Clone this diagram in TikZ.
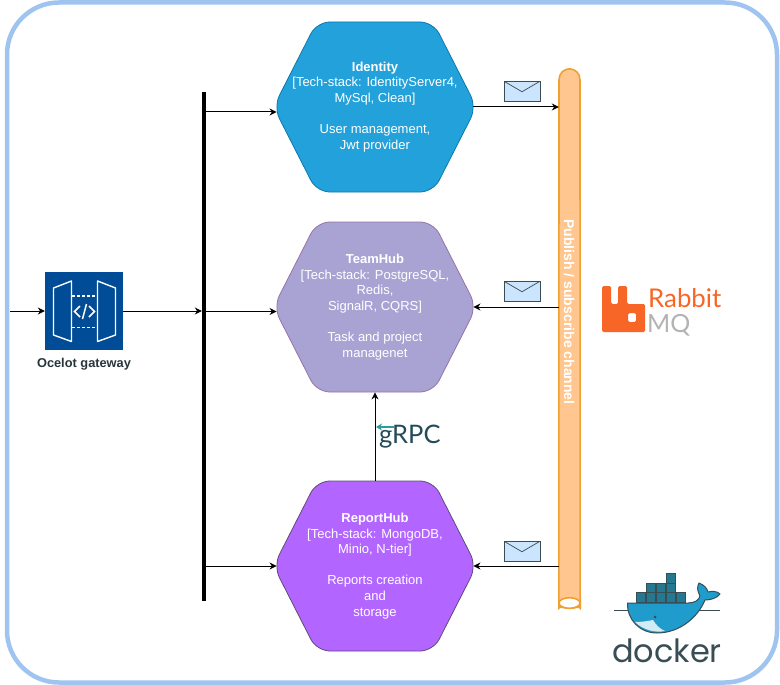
\documentclass[tikz,border=0pt]{standalone}
\usepackage{fontspec}
\setmainfont{Liberation Sans}
\newfontfamily\logofont{Lato}
\newfontfamily\dockerfont{Poppins}
\usetikzlibrary{arrows.meta,positioning,shapes.symbols}
\definecolor{framecol}{HTML}{A0C4F0}
\definecolor{gatecol}{HTML}{004C97}
\definecolor{identitycol}{HTML}{23A1DA}
\definecolor{identityline}{HTML}{0A78B0}
\definecolor{teamcol}{HTML}{A9A3D3}
\definecolor{teamline}{HTML}{9673A6}
\definecolor{reportcol}{HTML}{B266FF}
\definecolor{reportline}{HTML}{5F4A78}
\definecolor{channelcol}{HTML}{FFC78F}
\definecolor{channelline}{HTML}{F0A030}
\definecolor{mailcol}{HTML}{CCE5FF}
\definecolor{rabbitcol}{HTML}{F76627}
\definecolor{mqcol}{HTML}{B3B3B3}
\definecolor{grpccol}{HTML}{244B5A}
\definecolor{grpctip}{HTML}{2A9D9D}
\definecolor{dockerink}{HTML}{394D54}
\definecolor{dockerbox}{HTML}{24788F}
\definecolor{dockersea}{HTML}{1F9CCB}
\tikzset{
  flow/.style={-{Stealth[length=7pt,width=7pt]},line width=1pt},
  hexnode/.style={shape=signal,signal to=east and west,signal pointer angle=126,
    minimum width=203pt,minimum height=170pt,inner ysep=0pt,inner xsep=-50pt,rounded corners=13pt,
    draw=#1line,fill=#1col,text=white,align=center,line width=.8pt,
    font=\fontsize{13}{15.6}\selectfont},
  mailnode/.style={draw=dockerink,fill=mailcol,line width=.9pt,minimum width=36pt,minimum height=20.5pt,
    inner sep=0pt,path picture={\draw[dockerink,line width=.7pt]
      (path picture bounding box.north west) -- ++(18pt,-10.5pt)
      -- (path picture bounding box.north east);}},
}
\begin{document}
\begin{tikzpicture}[x=1pt,y=-1pt,node distance=200pt,on grid]
  \useasboundingbox (0,0) rectangle (780,685);
  \draw[framecol,line width=4.5pt,fill=white,rounded corners=52pt] (7,2.5) rectangle (777,682.5);

  % services
  \node[hexnode=identity] (identity) at (375,107)
    {\textbf{Identity}\\{}[Tech-stack: IdentityServer4,\\MySql, Clean]\\[15.6pt]User management,\\Jwt provider};
  \node[hexnode=team] (teamhub) [below=of identity]
    {\textbf{TeamHub}\\{}[Tech-stack: PostgreSQL,\\Redis,\\SignalR, CQRS]\\[15.6pt]Task and project\\managenet};
  \node[hexnode=report] (reporthub) [below=259pt of teamhub]
    {\textbf{ReportHub}\\{}[Tech-stack: MongoDB,\\Minio, N-tier]\\[15.6pt]Reports creation\\and\\storage};

  % gateway
  \coordinate (entry) at (10,311);
  \node[fill=gatecol,minimum size=78pt,inner sep=0pt] (gateway) at (84,311) {};
  \node[font=\fontsize{12.8}{14}\selectfont\bfseries,text=dockerink!70!black] (gatelabel) [below=53pt of gateway] {Ocelot gateway};
  \draw[white,line width=1.4pt,line join=round] (53.5,288) -- (71.5,281) -- (71.5,341.5) -- (53.5,335) -- cycle
    (97.5,281) -- (115.5,288) -- (115.5,335) -- (97.5,341.5) -- cycle;
  \draw[white,line width=1.4pt,densely dashed] (72,296) -- (97,296) (72,327.5) -- (97,327.5);
  \draw[white,line width=1.5pt] (80,306) -- (74.5,311.5) -- (80,317) (89,306) -- (94.5,311.5) -- (89,317) (82.5,319) -- (86.5,304);

  \node[fill=black,minimum width=4pt,minimum height=509pt,inner sep=0pt] (bus) at (204,346.5) {};

  % channel
  \node[minimum width=21pt,minimum height=539pt,inner sep=0pt] (channel) at (569.5,338.5) {};
  \draw[channelline,fill=channelcol,line width=1.6pt]
    (channel.south west) -- (559,80) .. controls (559,73) and (564,69) .. (channel.north)
    .. controls (575,69) and (580,73) .. (580,80) -- (channel.south east)
    .. controls (580,606) and (575,608) .. (channel.south)
    .. controls (564,608) and (559,606) .. cycle;
  \draw[channelline,fill=white,line width=1.6pt] (569.5,603) ellipse (10.5 and 5.3);
  \node[rotate=-90,text=white,font=\fontsize{14}{16}\selectfont\bfseries] (channellabel) at (569,312) {Publish / subscribe channel};

  \node[mailnode] (mail1) at (522,91.5) {};
  \node[mailnode] (mail2) at (522,291.5) {};
  \node[mailnode] (mail3) at (522,551.5) {};

  \path[flow]
  (entry) edge (gateway.west)
  (gateway.east) edge (gateway.east -| bus.west)
  % into the services
  ([yshift=-5pt]identity.west -| bus.east) edge ([yshift=-5pt,xshift=3.5pt]identity.west)
  ([yshift=-4.5pt]teamhub.west -| bus.east) edge ([yshift=-4.5pt,xshift=3.5pt]teamhub.west)
  (reporthub.west -| bus.east) edge ([xshift=3.5pt]reporthub.west)
  (reporthub.north) edge (teamhub.south)
  % channel edges
  ([xshift=-3.5pt]identity.east) edge (identity.east -| channel.west)
  (teamhub.east -| channel.west) edge ([xshift=-3.5pt]teamhub.east)
  (reporthub.east -| channel.west) edge ([xshift=-3.5pt]reporthub.east);

  % grpc logo
  \node[text=grpccol,font=\logofont\fontsize{25.5}{25}\selectfont,inner sep=0pt,anchor=base west] (grpc) at (379,443) {gRPC};
  \coordinate (grpctail) at (394,427);
  \coordinate (grpchead) at (376,427);
  \draw[grpctip,line width=1.2pt,-{Stealth[length=6pt,width=7pt]}] (grpctail) -- (grpchead);

  % rabbit logo
  \fill[rabbitcol,rounded corners=1.5pt,even odd rule] (602,286) -- (611,286) -- (611,304) -- (618,304) -- (618,286)
    -- (627,286) -- (627,304) -- (645,304) -- (645,332) -- (602,332) -- cycle
    (628,313) rectangle (636,322);
  \node[text=rabbitcol,font=\logofont\fontsize{25.8}{25}\selectfont,inner sep=0pt,anchor=base west] (rabbit) at (648,307) {Rabbit};
  \node[text=mqcol,font=\logofont\fontsize{25}{25}\selectfont,inner sep=0pt,anchor=base west] (mq) at (647,332) {MQ};

  % docker logo
  \draw[dockerink,line width=.6pt] (614,610) -- (720,610);
  \draw[dockerink,line width=1pt,fill=dockersea,line join=round]
    (627.5,603) -- (688,603) .. controls (695,603) and (699,600) .. (700,596)
    .. controls (697,590) and (697,587) .. (699,583) .. controls (704,585) and (707,588) .. (708,592)
    .. controls (712,591) and (717,591) .. (720,594) .. controls (717,598) and (711,600) .. (705,600)
    .. controls (698,617) and (680,633) .. (657,633) .. controls (640,633) and (627,620) .. cycle;
  \fill[white!80!dockersea] (635,622) .. controls (642,622) and (648,621) .. (653,620)
    .. controls (656,625) and (660,629) .. (665,631) .. controls (655,633) and (643,630) .. cycle;
  \fill[dockerink] (655,617) circle (1.5);
  \foreach \col/\row in {0/0,1/0,2/0,3/0,4/0,1/1,2/1,3/1,3/2}
    \draw[dockerink,fill=dockerbox,line width=.6pt] (636+\col*10,592.5-\row*9.5) rectangle ++(9.5,9.5);
  \node[text=dockerink,font=\dockerfont\fontsize{32}{32}\selectfont,inner sep=0pt,anchor=base] (dockerlabel) at (667,662) {docker};
\end{tikzpicture}
\end{document}
